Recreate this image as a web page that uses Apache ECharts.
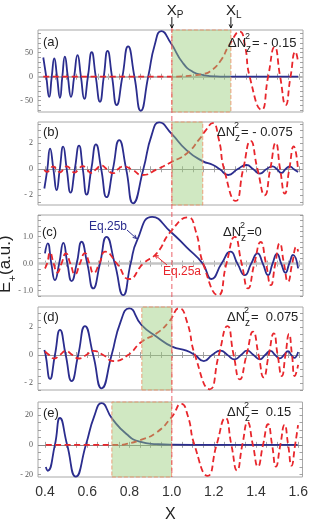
<!DOCTYPE html>
<html><head><meta charset="utf-8">
<script src="https://cdn.jsdelivr.net/npm/echarts@6/dist/echarts.min.js"></script>
<style>html,body{margin:0;padding:0;background:#fff}#main{width:311px;height:524px}</style>
</head><body><div id="main"></div>
<script>
// ---------- data ----------
const xTickLabels = [0.4, 0.6, 0.8, 1.0, 1.2, 1.4, 1.6];
const panelNames = ['(a)', '(b)', '(c)', '(d)', '(e)'];
const dnValues = ['= - 0.15', '= - 0.075', '=0', '=  0.075', '=  0.15'];
const yLabelsA = [-50, 0, 50];
const yLabelsB = [-2, 0, 2];
const yLabelsC = [-1, 0, 1];
const yLabelsD = [-2, 0, 2];
const yLabelsE = [-20, 0, 20];
const X_P = 1.0;
const X_L = 1.279;
const bandA = [1.0, 1.279];
const bandB = [1.0, 1.146];
const bandD = [0.858, 1.0];
const bandE = [0.717, 1.0];

const blueA = [[0.392,40],[0.406,0],[0.420,-42],[0.432,0],[0.444,38],[0.457,0],[0.471,-44],[0.482,0],[0.494,42],[0.508,0],[0.523,-42],[0.538,0],[0.554,45],[0.570,0],[0.586,-46],[0.603,0],[0.621,51],[0.640,0],[0.660,-52],[0.678,0],[0.696,54],[0.717,0],[0.739,-59],[0.766,0],[0.793,63],[0.823,0],[0.853,-71],[0.888,0],[0.920,68],[0.950,95],[0.995,70],[1.053,28],[1.100,10],[1.148,3.5],[1.210,0.5],[1.300,0],[1.597,0]];
const redA = [[0.392,0],[0.95,0],[1.05,0.8],[1.10,2.5],[1.15,6],[1.18,11],[1.227,31],[1.274,68],[1.321,94],[1.345,66],[1.368,0],[1.424,-69],[1.455,0],[1.486,62],[1.512,0],[1.538,-59],[1.561,0],[1.584,52],[1.597,30]];

const blueB = [[0.397,-1.48],[0.411,0],[0.424,1.59],[0.44,0],[0.455,-1.6],[0.47,0],[0.486,1.74],[0.503,0],[0.521,-1.79],[0.541,0],[0.561,1.82],[0.579,0],[0.597,-1.95],[0.619,0],[0.641,1.92],[0.666,0],[0.691,-2.15],[0.721,0],[0.751,2.25],[0.784,0],[0.817,-2.62],[0.865,0],[0.905,2.67],[0.940,3.61],[0.998,2.75],[1.069,1.48],[1.145,0.63],[1.195,0.33],[1.227,0],[1.266,-0.44],[1.31,0],[1.353,0.33],[1.385,0],[1.416,-0.33],[1.446,0],[1.476,0.23],[1.497,0],[1.518,-0.28],[1.537,0],[1.557,0.23],[1.577,0],[1.597,-0.2]];
const redB = [[0.397,-0.05],[0.41,-0.2],[0.424,0],[0.438,0.22],[0.455,0],[0.471,-0.23],[0.488,0],[0.504,0.23],[0.522,0],[0.54,-0.25],[0.559,0],[0.578,0.25],[0.598,0],[0.619,-0.28],[0.642,0],[0.666,0.28],[0.693,0],[0.721,-0.3],[0.745,0],[0.77,0.22],[0.81,0],[0.861,-0.44],[0.93,0],[0.998,0.56],[1.069,1.2],[1.132,2.36],[1.16,3.0],[1.192,3.56],[1.222,2.3],[1.247,0],[1.302,-2.44],[1.337,0],[1.372,2.18],[1.405,0],[1.439,-2.0],[1.465,0],[1.491,2.03],[1.512,0],[1.534,-1.87],[1.555,0],[1.576,1.77],[1.597,-0.1]];

const blueC = [[0.40,0.38],[0.413,0.75],[0.43,0],[0.447,-0.61],[0.467,0],[0.487,0.77],[0.506,0],[0.526,-0.65],[0.55,0],[0.573,0.81],[0.60,0],[0.628,-0.92],[0.66,0],[0.691,0.99],[0.73,0],[0.77,-1.17],[0.805,0],[0.835,0.85],[0.907,1.73],[0.994,1.18],[1.07,0.6],[1.146,0],[1.187,-0.57],[1.235,0],[1.277,0.44],[1.31,0],[1.345,-0.43],[1.375,0],[1.405,0.38],[1.43,0],[1.455,-0.43],[1.476,0],[1.497,0.36],[1.517,0],[1.537,-0.34],[1.555,0],[1.573,0.32],[1.597,-0.18]];
const redC = [[0.40,-0.18],[0.41,0],[0.424,0.41],[0.441,0],[0.458,-0.33],[0.478,0],[0.499,0.38],[0.52,0],[0.542,-0.40],[0.565,0],[0.589,0.39],[0.61,0],[0.63,-0.35],[0.657,0],[0.685,0.44],[0.74,0],[0.798,-0.57],[0.864,0],[0.928,0.38],[0.994,1.18],[1.077,1.71],[1.113,1.2],[1.148,0],[1.219,-1.17],[1.258,0],[1.297,0.99],[1.33,0],[1.36,-0.92],[1.39,0],[1.42,0.8],[1.445,0],[1.468,-0.8],[1.489,0],[1.51,0.75],[1.53,0],[1.549,-0.67],[1.569,0],[1.589,0.62],[1.597,0.45]];

const blueD = [[0.397,0.36],[0.403,0],[0.424,-1.71],[0.447,0],[0.471,1.79],[0.498,0],[0.526,-1.86],[0.557,0],[0.589,2.07],[0.628,0],[0.668,-2.38],[0.715,0],[0.757,2.35],[0.798,3.33],[0.857,2.14],[0.928,1.31],[1.001,0.6],[1.069,0.31],[1.109,0],[1.151,-0.43],[1.19,0],[1.23,0.31],[1.263,0],[1.297,-0.31],[1.327,0],[1.356,0.31],[1.386,0],[1.416,-0.31],[1.441,0],[1.466,0.29],[1.488,0],[1.51,-0.24],[1.53,0],[1.549,0.27],[1.565,0],[1.578,-0.2],[1.597,0.22]];
const redD = [[0.40,0.25],[0.42,0],[0.443,-0.25],[0.47,0],[0.498,0.28],[0.53,0],[0.561,-0.25],[0.595,0],[0.628,0.3],[0.675,0],[0.723,-0.43],[0.793,0],[0.857,0.95],[0.928,1.55],[0.985,2.35],[1.035,3.35],[1.072,2.35],[1.109,0],[1.179,-2.45],[1.222,0],[1.263,2.07],[1.292,0],[1.321,-1.74],[1.353,0],[1.384,1.67],[1.41,0],[1.434,-1.6],[1.458,0],[1.482,1.55],[1.50,0],[1.52,-1.5],[1.537,0],[1.554,1.5],[1.568,0],[1.581,-1.5],[1.597,-0.7]];

const blueE = [[0.404,-15],[0.413,-17.5],[0.447,0],[0.471,18.1],[0.505,0],[0.546,-21.5],[0.594,0],[0.634,19.5],[0.668,28.1],[0.718,17.7],[0.786,7.3],[0.849,2.1],[0.928,0.5],[1.0,0.1],[1.2,0],[1.597,0]];
const redE = [[0.404,0],[0.75,0],[0.786,0.6],[0.849,3.1],[0.928,8.3],[1.0,18.7],[1.046,27.7],[1.077,19.4],[1.108,0],[1.171,-20.9],[1.213,0],[1.255,18.1],[1.283,0],[1.31,-17.3],[1.335,0],[1.36,15.2],[1.385,0],[1.409,-14.6],[1.433,0],[1.457,13.9],[1.476,0],[1.494,-14.6],[1.515,0],[1.535,13.5],[1.552,0],[1.568,-14],[1.585,0],[1.599,13.3]];

// ---------- layout / style ----------
const FONT = '"Liberation Sans", Arial, sans-serif';
const SERIF = '"Liberation Serif", "DejaVu Serif", serif';
const BLUE = '#2b2d8e';
const RED = '#e8262c';
const X_MIN = 0.367, X_MAX = 1.62;
const gridTops = [30, 122, 215, 307, 402];
const gridHeights = [82, 83, 81, 83, 81];

const fmtInt = v => v < 0 ? '- ' + (-v) : String(v);
const fmtDec = v => v < 0 ? '- ' + (-v).toFixed(1) : v.toFixed(1);

const panels = [
  {blue: blueA, red: redA, yMin: -73.5, yMax: 97.3, labels: yLabelsA, step: 10, fmt: fmtInt, band: bandA, zw: 2, zc: '#b8b8b8'},
  {blue: blueB, red: redB, yMin: -2.75, yMax: 3.64, labels: yLabelsB, step: 0.5, fmt: fmtInt, band: bandB, zw: 1.2, zc: '#999'},
  {blue: blueC, red: redC, yMin: -1.2, yMax: 1.8, labels: yLabelsC, step: 0.2, fmt: fmtDec, band: null, zw: 2.5, zc: '#c4c4c4'},
  {blue: blueD, red: redD, yMin: -2.5, yMax: 3.43, labels: yLabelsD, step: 0.5, fmt: fmtInt, band: bandD, zw: 1.2, zc: '#999'},
  {blue: blueE, red: redE, yMin: -21.7, yMax: 28.9, labels: yLabelsE, step: 5, fmt: fmtInt, band: bandE, zw: 1.2, zc: '#888'}
];

function tickList(min, max, step) {
  const out = [];
  for (let k = Math.ceil(min / step - 1e-9); k * step <= max + 1e-9; k++) out.push(+(k * step).toFixed(4));
  return out;
}
const xTicks = tickList(0.4, 1.6, 0.05);

const grids = [], xAxes = [], yAxes = [], series = [];
panels.forEach((p, i) => {
  grids.push({left: 38, right: 8, top: gridTops[i], height: gridHeights[i], show: true,
    borderColor: '#a8a8a8', borderWidth: 1, backgroundColor: 'transparent'});
  const tick = {show: true, inside: true, length: 3, lineStyle: {color: '#8c8c8c', width: 0.8}};
  const yTicks = tickList(p.yMin, p.yMax, p.step);
  xAxes.push({type: 'value', gridIndex: i, position: 'bottom', min: X_MIN, max: X_MAX,
    axisLine: {show: false}, splitLine: {show: false},
    axisTick: Object.assign({customValues: xTicks}, tick),
    axisLabel: {show: i === 4, customValues: xTickLabels, formatter: v => v.toFixed(1),
      fontSize: 14, color: '#333', margin: 8, fontFamily: FONT},
    name: i === 4 ? 'X' : '', nameLocation: 'middle', nameGap: 30,
    nameTextStyle: {fontSize: 16, color: '#222', fontFamily: FONT}});
  xAxes.push({type: 'value', gridIndex: i, position: 'top', min: X_MIN, max: X_MAX,
    axisLine: {show: false}, splitLine: {show: false},
    axisTick: Object.assign({customValues: xTicks}, tick), axisLabel: {show: false}});
  yAxes.push({type: 'value', gridIndex: i, position: 'left', min: p.yMin, max: p.yMax,
    axisLine: {show: false}, splitLine: {show: false},
    axisTick: Object.assign({customValues: yTicks}, tick),
    axisLabel: {customValues: p.labels, formatter: p.fmt, fontSize: 8, color: '#555',
      fontFamily: SERIF, margin: 5}});
  yAxes.push({type: 'value', gridIndex: i, position: 'right', min: p.yMin, max: p.yMax,
    axisLine: {show: false}, splitLine: {show: false},
    axisTick: Object.assign({customValues: yTicks}, tick), axisLabel: {show: false}});

  const ax = {xAxisIndex: 2 * i, yAxisIndex: 2 * i};
  series.push(Object.assign({type: 'line', data: [], silent: true, z: 1,
    markLine: {silent: true, symbol: 'none', z: 1, animation: false, label: {show: false},
      lineStyle: {color: p.zc, width: p.zw, type: 'solid'}, data: [{yAxis: 0}]}}, ax));
  series.push(Object.assign({type: 'line', data: p.blue, smooth: 0.55, showSymbol: false, symbol: 'none',
    silent: true, z: 3, lineStyle: {color: BLUE, width: 1.8}}, ax));
  series.push(Object.assign({type: 'line', data: p.red, smooth: 0.55, showSymbol: false, symbol: 'none',
    silent: true, z: 4, lineStyle: {color: RED, width: 1.8, type: [6, 3.5]}}, ax));
  if (p.band) {
    series.push(Object.assign({type: 'line', data: [], silent: true, z: 10,
      markArea: {silent: true, z: 10, animation: false,
        itemStyle: {color: 'rgba(150,205,120,0.45)', borderColor: 'rgba(236,150,110,0.9)',
          borderWidth: 1, borderType: 'dashed'},
        data: [[{xAxis: p.band[0]}, {xAxis: p.band[1]}]]}}, ax));
  }
});

const chart = echarts.init(document.getElementById('main'), null, {renderer: 'canvas'});
chart.setOption({animation: false, backgroundColor: '#fff', grid: grids, xAxis: xAxes, yAxis: yAxes, series: series});

// ---------- annotations ----------
function arrow(x1, y1, x2, y2, color) {
  const a = Math.atan2(y2 - y1, x2 - x1), h = 4, w = 0.45;
  return [
    {type: 'line', shape: {x1, y1, x2, y2}, style: {stroke: color, lineWidth: 1}, z: 100},
    {type: 'polyline', shape: {points: [[x2 - h * Math.cos(a - w), y2 - h * Math.sin(a - w)], [x2, y2],
      [x2 - h * Math.cos(a + w), y2 - h * Math.sin(a + w)]]}, style: {stroke: color, lineWidth: 1, fill: null}, z: 100}
  ];
}
function txt(x, y, text, size, color, align) {
  return {type: 'text', x, y, z: 100, style: {text, font: size + 'px ' + FONT, fill: color || '#222',
    textAlign: align || 'left', textVerticalAlign: 'middle'}};
}
const xp = chart.convertToPixel({xAxisIndex: 0}, X_P);
const xl = chart.convertToPixel({xAxisIndex: 0}, X_L);
const yTop = chart.convertToPixel({yAxisIndex: 0}, panels[0].yMax);
const yBot = chart.convertToPixel({yAxisIndex: 8}, panels[4].yMin);

const g = [];
g.push({type: 'line', z: 100, shape: {x1: xp, y1: yTop - 2, x2: xp, y2: yBot},
  style: {stroke: 'rgba(232,70,80,0.85)', lineWidth: 1, lineDash: [5, 3]}});
g.push(...arrow(xp, 17, xp, 28, '#111'));
g.push(...arrow(xl, 17, xl, 28, '#111'));
g.push(txt(xp - 5, 11, 'X', 15), txt(xp + 5, 15, 'P', 10));
g.push(txt(xl - 5, 11, 'X', 15), txt(xl + 5, 15, 'L', 10));

const labelPos = [[43, 42], [43, 132], [42, 232], [43, 317], [43, 413]];
const dnPos = [[228, 43], [217, 132], [223, 232], [227, 317], [227, 412]];
panelNames.forEach((n, i) => {
  g.push(txt(labelPos[i][0], labelPos[i][1], n, 13));
  const [lx, ly] = dnPos[i];
  g.push(txt(lx, ly, 'ΔN', 13), txt(lx + 17, ly - 6, '2', 9), txt(lx + 18, ly + 6, 'z', 10),
    txt(lx + 24, ly, dnValues[i], 13));
});
g.push(txt(89, 227, 'Eq.25b', 12, BLUE));
g.push(...arrow(127, 230, 136.5, 238.5, BLUE));
g.push(txt(163, 272, 'Eq.25a', 12, RED));
g.push(...arrow(167, 265, 155, 255, RED));
g.push({type: 'group', x: 14, y: 293, rotation: Math.PI / 2, z: 100, children: [
  {type: 'text', x: 0, y: 0, style: {text: 'E', font: '17px ' + FONT, fill: '#222', textVerticalAlign: 'bottom'}},
  {type: 'text', x: 11.5, y: 4, style: {text: '+', font: '11px ' + FONT, fill: '#222', textVerticalAlign: 'bottom'}},
  {type: 'text', x: 18, y: 0, style: {text: '(a.u.)', font: '17px ' + FONT, fill: '#222', textVerticalAlign: 'bottom'}}
]});
chart.setOption({graphic: g});
</script></body></html>
